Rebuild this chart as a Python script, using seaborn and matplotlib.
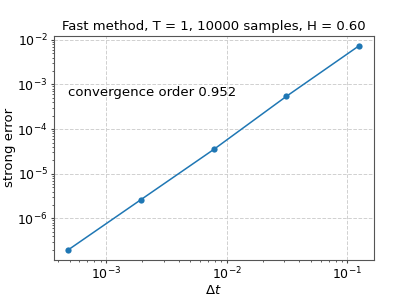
import pandas as pd
import matplotlib
matplotlib.use("Agg")
import matplotlib.pyplot as plt
import seaborn as sns

# step sizes and strong errors
dt = [0.125, 0.03125, 0.0078125, 0.001953125, 0.00048828125]
err = [7.3e-3, 5.4e-4, 3.5e-5, 2.65e-6, 2.0e-7]
order = 0.952

veri = pd.DataFrame({"dt": dt, "err": err})

plt.rcParams["font.size"] = 9.5
for a in ("x", "y"):
    plt.rcParams[f"{a}tick.major.size"] = 2.5
    plt.rcParams[f"{a}tick.minor.size"] = 1.5
    plt.rcParams[f"{a}tick.major.pad"] = 2
    plt.rcParams[f"{a}tick.minor.pad"] = 2
    plt.rcParams[f"{a}tick.labelsize"] = 9
    plt.rcParams[f"{a}tick.color"] = "#444444"
    plt.rcParams[f"{a}tick.labelcolor"] = "black"

fig, ax = plt.subplots(figsize=(4.15, 2.97), dpi=100)
sns.lineplot(data=veri, x="dt", y="err", marker="o", markersize=4.5,
             markeredgewidth=0, color="#1f77b4", linewidth=1.1, ax=ax)
ax.set_xscale("log")
ax.set_yscale("log")
ax.grid(True, which="major", linestyle="--", color="#d0d0d0", linewidth=0.7)
for s in ax.spines.values():
    s.set_color("#555555")
ax.text(0.045, 0.745, f"convergence order {order:.3f}", transform=ax.transAxes,
        fontsize=9.5, va="center")
ax.set_xlabel(r"$\Delta t$", labelpad=1)
ax.set_ylabel("strong error", labelpad=1)
ax.set_title("Fast method, T = 1, 10000 samples, H = 0.60", fontsize=9.5, pad=4)
fig.subplots_adjust(left=0.13, right=0.9, top=0.88, bottom=0.125)
fig.savefig("out.png")
